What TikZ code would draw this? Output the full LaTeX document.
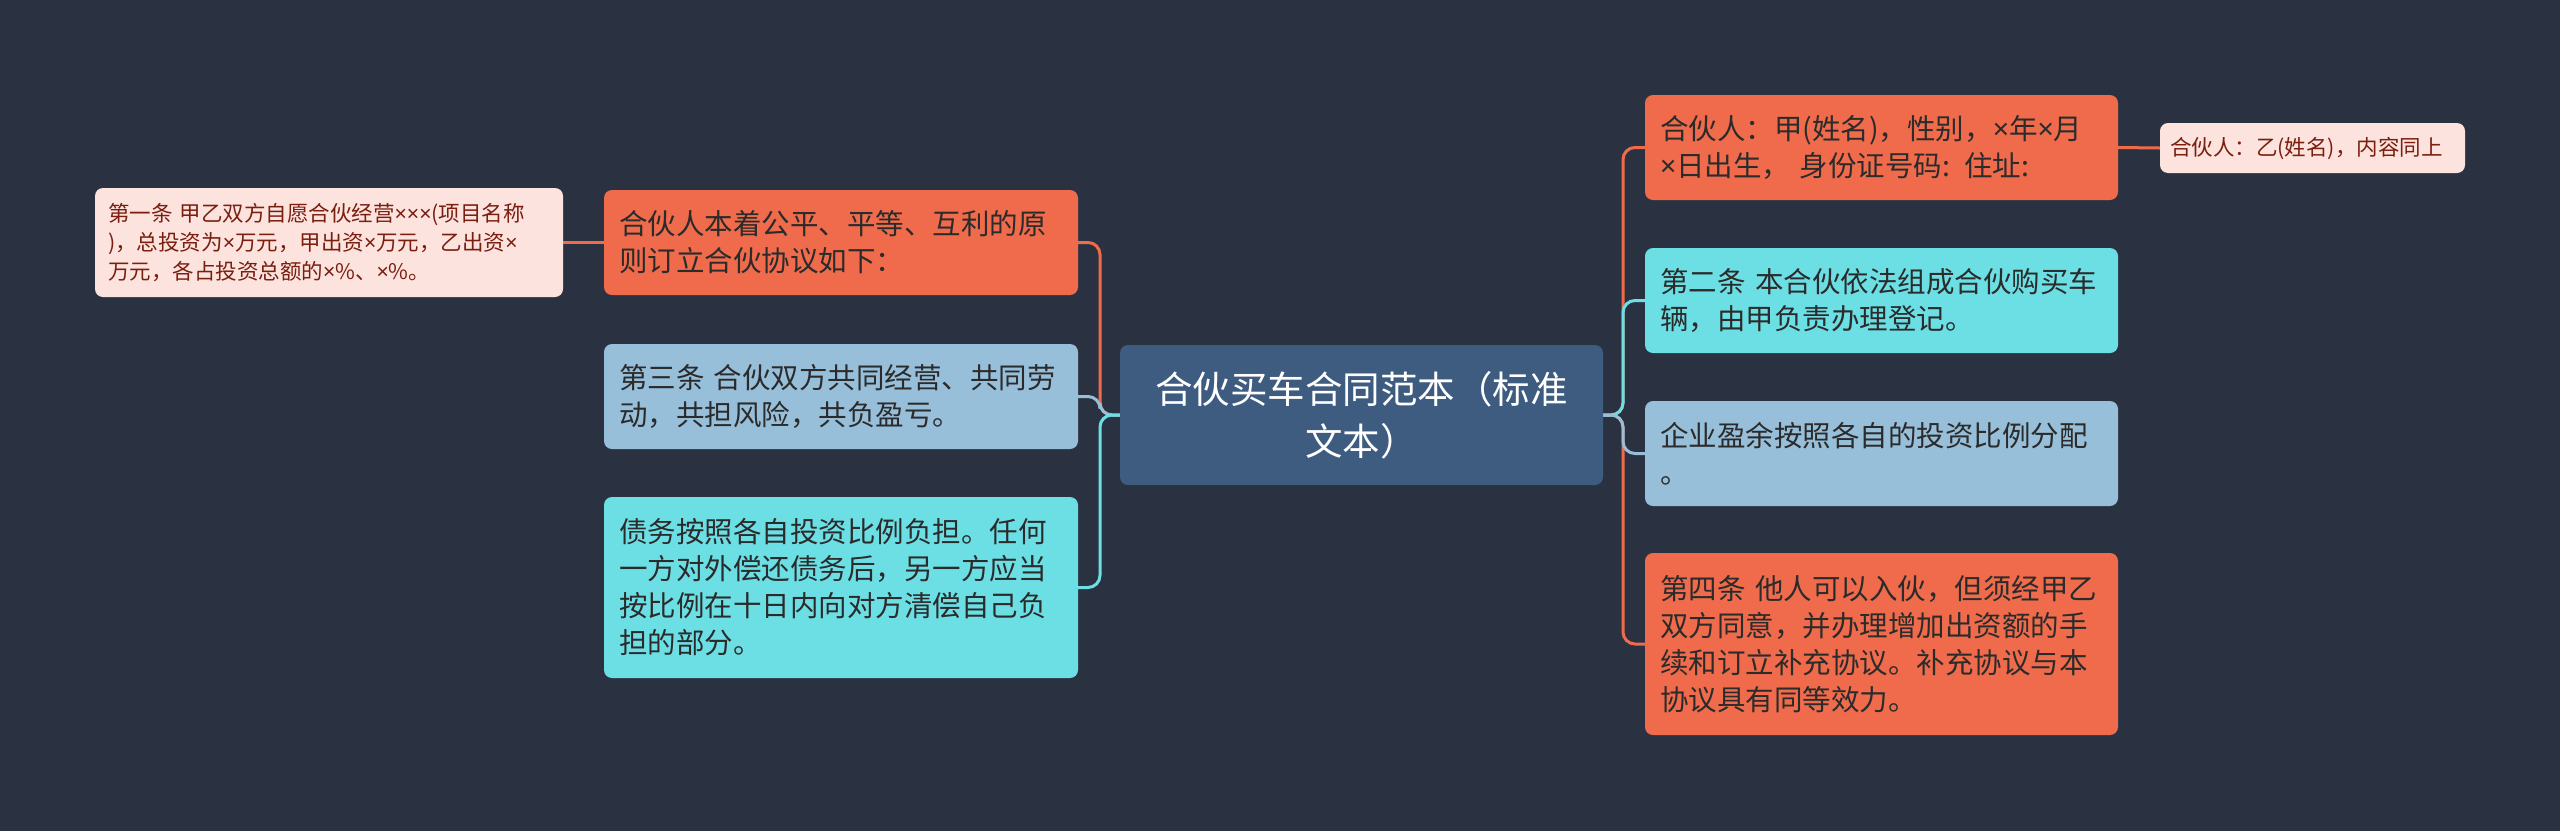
\documentclass[tikz,border=0pt]{standalone}
\usepackage{fontspec}
\setmainfont{Noto Sans CJK SC}
\newfontfamily\latf{Noto Sans}
\newcommand{\tms}{{\latf ×}}
\usetikzlibrary{backgrounds}
\definecolor{bgc}{HTML}{2A3242}
\definecolor{orng}{HTML}{EF6B4B}
\definecolor{cyn}{HTML}{6CDFE5}
\definecolor{lblu}{HTML}{97BFDA}
\definecolor{cntr}{HTML}{3E5B80}
\definecolor{pale}{HTML}{FDE3DE}
\definecolor{paletext}{HTML}{7A1E10}
\definecolor{darktext}{HTML}{2B2B2B}
\tikzset{
  box/.style={rounded corners=8pt, inner sep=0pt, align=left, text=darktext,
    font=\fontsize{28.5}{37}\selectfont},
  obox/.style={box, fill=orng},
  cbox/.style={box, fill=cyn},
  bbox/.style={box, fill=lblu},
  pbox/.style={box, fill=pale, text=paletext, font=\fontsize{21.5}{29}\selectfont},
  mainbox/.style={rounded corners=8pt, inner sep=0pt, align=center, fill=cntr, text=white,
    font=\fontsize{37.5}{52}\selectfont},
  link/.style={line width=3pt, rounded corners=12pt},
  olink/.style={link, draw=orng},
  clink/.style={link, draw=cyn},
  blink/.style={link, draw=lblu},
}
\begin{document}
\begin{tikzpicture}[x=1pt,y=-1pt]
\useasboundingbox (0,0) rectangle (2560,831);
\begin{scope}[on background layer]
\fill[bgc] (0,0) rectangle (2560,831);
\end{scope}
% center
\node[mainbox, minimum width=483pt, minimum height=140pt] (C) at (1361.5,415) {合伙买车合同范本（标准\\文本）};
% left
\node[obox, minimum width=474pt, minimum height=105pt, text width=444pt] (L1) at (841,242.5) {合伙人本着公平、平等、互利的原\\则订立合伙协议如下：};
\node[bbox, minimum width=474pt, minimum height=105pt, text width=444pt] (L2) at (841,396.5) {第三条 合伙双方共同经营、共同劳\\动，共担风险，共负盈亏。};
\node[cbox, minimum width=474pt, minimum height=181pt, text width=444pt] (L3) at (841,587.5) {债务按照各自投资比例负担。任何\\一方对外偿还债务后，另一方应当\\按比例在十日内向对方清偿自己负\\担的部分。};
\node[pbox, minimum width=468pt, minimum height=109pt, text width=442pt] (LS) at (329,242.5) {第一条 甲乙双方自愿合伙经营\tms\tms\tms(项目名称\\)，总投资为\tms 万元，甲出资\tms 万元，乙出资\tms\\万元，各占投资总额的\tms\%、\tms\%。};
% right
\node[obox, minimum width=473pt, minimum height=105pt, text width=443pt] (R1) at (1881.5,147.5) {合伙人：甲(姓名)，性别，\tms 年\tms 月\\\tms 日出生， 身份证号码: 住址:};
\node[cbox, minimum width=473pt, minimum height=105pt, text width=443pt] (R2) at (1881.5,300.5) {第二条 本合伙依法组成合伙购买车\\辆，由甲负责办理登记。};
\node[bbox, minimum width=473pt, minimum height=105pt, text width=443pt] (R3) at (1881.5,453.5) {企业盈余按照各自的投资比例分配\\。};
\node[obox, minimum width=473pt, minimum height=182pt, text width=443pt] (R4) at (1881.5,644) {第四条 他人可以入伙，但须经甲乙\\双方同意，并办理增加出资额的手\\续和订立补充协议。补充协议与本\\协议具有同等效力。};
\node[pbox, minimum width=305pt, minimum height=50pt, text width=285pt] (RS) at (2312.5,148) {合伙人：乙(姓名)，内容同上};
% junctions
\coordinate (lj) at (1100,415);
\coordinate (rj) at (1623,415);
\begin{scope}[on background layer]
\draw[olink] (L1.east) -| (lj) -- (C.west);
\draw[blink] (L2.east) -| (lj) -- (C.west);
\draw[clink] (L3.east) -| (lj) -- (C.west);
\draw[olink] (LS.east) -- (L1.west);
\draw[olink] (R1.west) -| (rj) -- (C.east);
\draw[olink] (R4.west) -| (rj) -- (C.east);
\draw[clink] (R2.west) -| (rj) -- (C.east);
\draw[blink] (R3.west) -| (rj) -- (C.east);
\draw[olink] (R1.east) -- (RS.west);
\end{scope}
\end{tikzpicture}
\end{document}
